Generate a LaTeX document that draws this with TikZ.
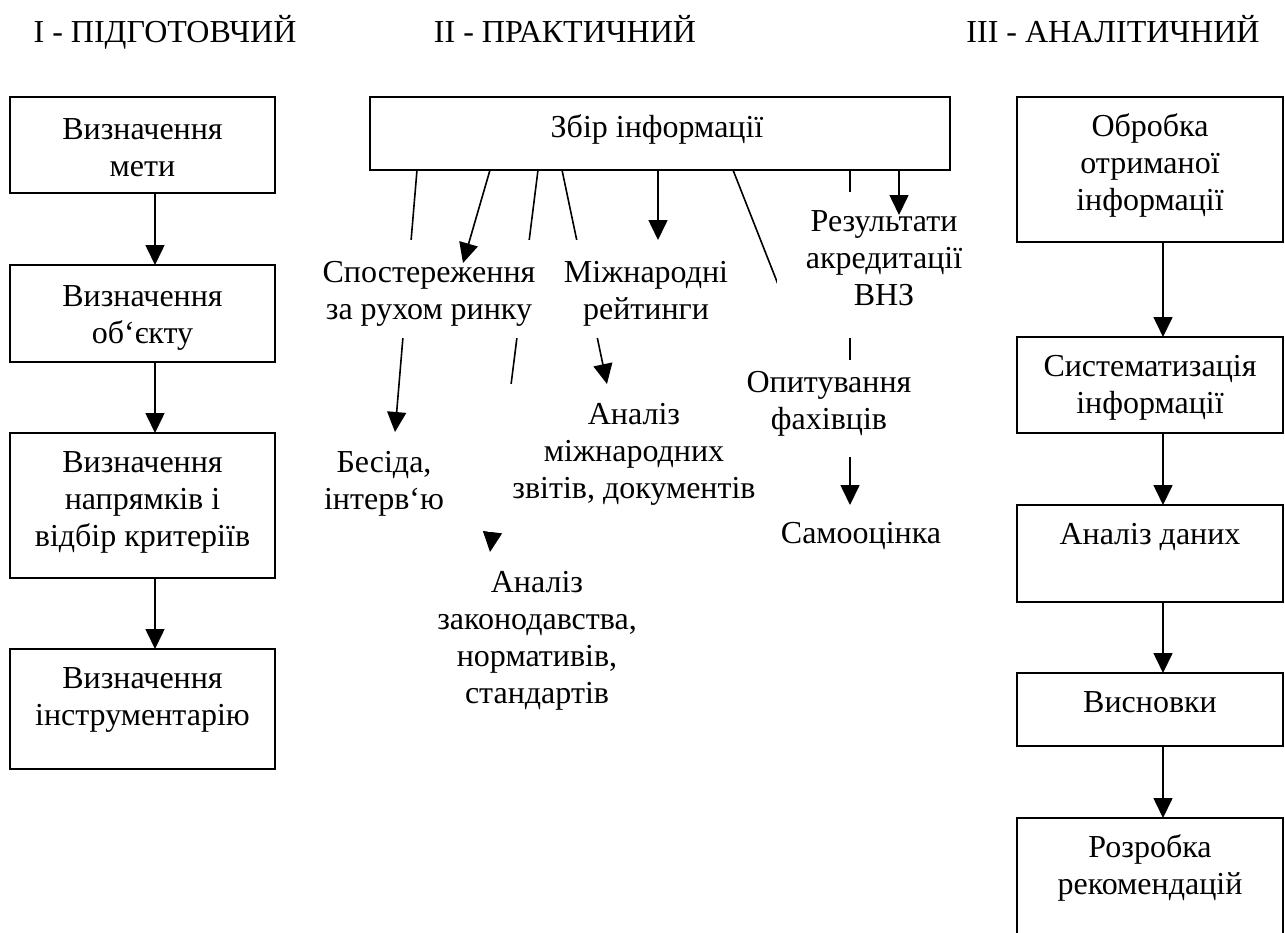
\documentclass[tikz,border=0pt]{standalone}
\usepackage{fontspec}
\setmainfont{Liberation Serif}
\usetikzlibrary{arrows.meta,backgrounds}
\newcommand\tbox[4]{\parbox[c][#2pt][t]{#1pt}{\centering\vspace*{#3pt}\strut #4\par}}
\begin{document}
\begin{tikzpicture}[x=1pt,y=-1pt,
  every node/.style={font=\fontsize{32}{36.8}\selectfont, inner sep=0pt, outer sep=0pt},
  box/.style={draw, line width=1.8pt, fill=white},
  txt/.style={fill=white},
  arr/.style={line width=1.6pt, -{Triangle[width=19pt,length=20pt]}},
  ln/.style={line width=1.6pt}]
\useasboundingbox (0,0) rectangle (1285,932);

% titles
\node[anchor=base] (h1) at (165,42) {I - ПІДГОТОВЧИЙ};
\node[anchor=base] (h2) at (565,42) {II - ПРАКТИЧНИЙ};
\node[anchor=base] (h3) at (1113,42) {III - АНАЛІТИЧНИЙ};

% left column
\node[box] (l1) at (142.5,145) {\tbox{265}{96}{17.2}{Визначення\\мети}};
\node[box] (l2) at (142.5,313.5) {\tbox{265}{97}{16.2}{Визначення\\об‘єкту}};
\node[box] (l3) at (142.5,505.5) {\tbox{265}{145}{14.2}{Визначення\\напрямків і\\відбір критеріїв}};
\node[box] (l4) at (142.5,709) {\tbox{265}{120}{14.2}{Визначення\\інструментарію}};

% right column
\node[box] (r1) at (1150,169.5) {\tbox{266}{145}{14.2}{Обробка\\отриманої\\інформації}};
\node[box] (r2) at (1150,385) {\tbox{266}{96}{14.2}{Систематизація\\інформації}};
\node[box] (r3) at (1150,553.5) {\tbox{266}{97}{14.2}{Аналіз даних}};
\node[box] (r4) at (1150,709.5) {\tbox{266}{73}{14.2}{Висновки}};
\node[box] (r5) at (1150,881.5) {\tbox{266}{127}{14.2}{Розробка\\рекомендацій}};

% middle
\node[box] (zb) at (660,133.5) {\tbox{580}{73}{15.2}{\hspace*{-6pt}Збір інформації}};
\node[txt] (sp) at (429,289) {\tbox{236}{98}{17.2}{Спостереження\\за рухом ринку}};
\node[txt] (miz) at (646,289) {\tbox{172}{98}{17.2}{Міжнародні\\рейтинги}};
\node[txt] (rez) at (884,265) {\tbox{214}{146}{14.2}{Результати\\акредитації\\ВНЗ}};
\node[txt] (bes) at (384,482) {\tbox{130}{100}{15.2}{Бесіда,\\інтерв‘ю}};
\node[txt] (anm) at (634,458) {\tbox{292}{148}{15.2}{Аналіз\\міжнародних\\звітів, документів}};
\node[txt] (opy) at (829,408.5) {\tbox{200}{97}{7.2}{Опитування\\фахівців}};
\node[txt] (sam) at (861,535) {\tbox{180}{60}{13.2}{Самооцінка}};
\node[txt] (anz) at (537,637) {\tbox{220}{170}{15.2}{Аналіз\\законодавства,\\нормативів,\\стандартів}};

\coordinate (c2) at (463,263);
\coordinate (c6) at (796,330);
\coordinate (c8) at (899,215);

\begin{pgfonlayer}{background}
\draw[arr] (zb.south -| 417,0) -- (bes.north -| 395,0);
\draw[arr] (zb.south -| 538,0) -- (anz.north -| 490,0);
\draw[arr] (zb.south -| 562,0) -- (anm.north -| 607,0);
\draw[ln] (zb.south -| 733,0) -- (c6);
\draw[arr] (zb.south -| 850,0) -- (sam.north -| 850,0);
\end{pgfonlayer}

\draw[arr] (zb.south -| 490,0) -- (c2);
\draw[arr] (zb.south -| 658,0) -- (miz.north -| 658,0);
\draw[arr] (zb.south -| 899,0) -- (c8);

\draw[arr] (l1.south -| 155,0) -- (l2.north -| 155,0);
\draw[arr] (l2.south -| 155,0) -- (l3.north -| 155,0);
\draw[arr] (l3.south -| 155,0) -- (l4.north -| 155,0);

\draw[arr] (r1.south -| 1163,0) -- (r2.north -| 1163,0);
\draw[arr] (r2.south -| 1163,0) -- (r3.north -| 1163,0);
\draw[arr] (r3.south -| 1163,0) -- (r4.north -| 1163,0);
\draw[arr] (r4.south -| 1163,0) -- (r5.north -| 1163,0);
\end{tikzpicture}
\end{document}
